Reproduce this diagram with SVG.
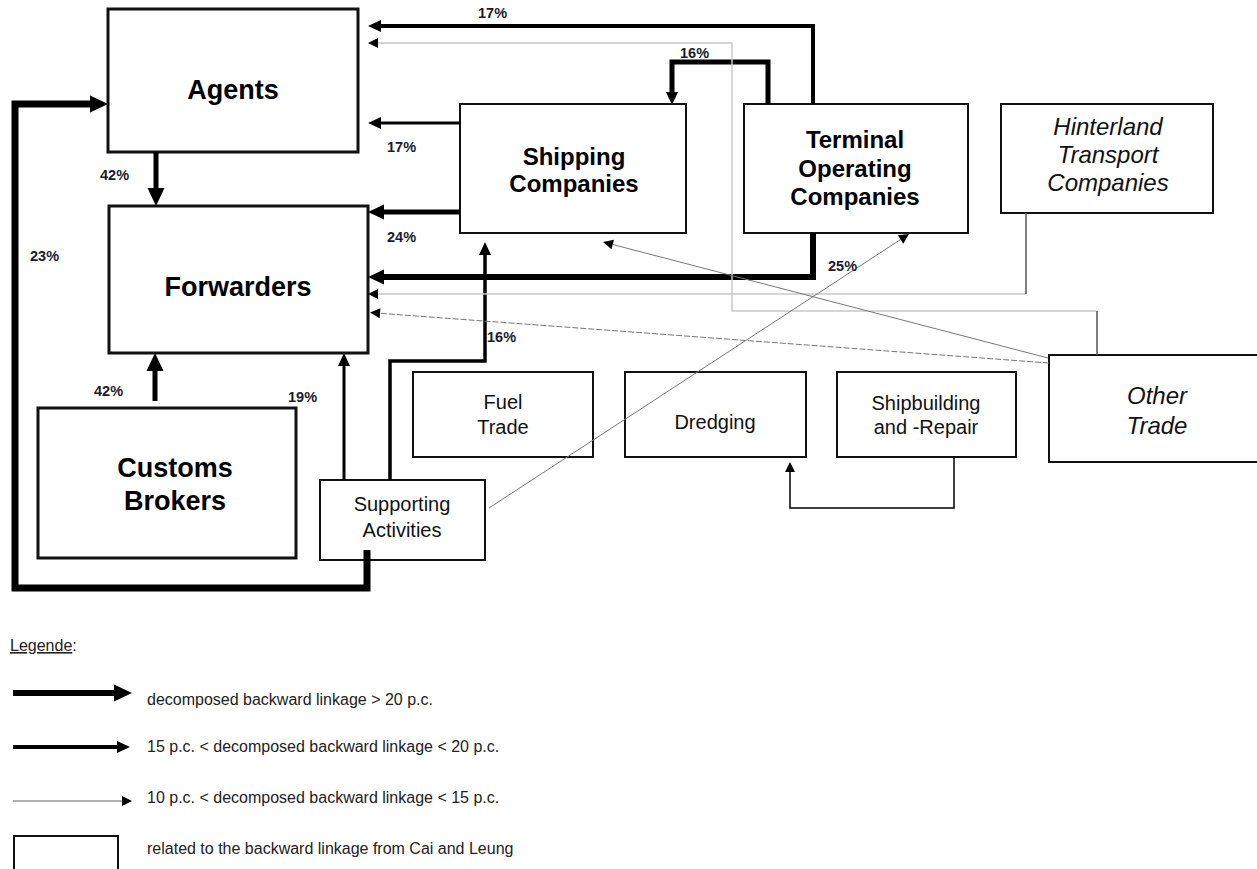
<svg xmlns="http://www.w3.org/2000/svg" width="1257" height="869" viewBox="0 0 1257 869">
  <style>
    .box { fill: #fff; stroke: #111; }
    .heavy { stroke-width: 3; }
    .light { stroke-width: 2; }
    .bigt { font-family: "Liberation Sans", Arial, sans-serif; font-weight: bold; fill: #000; text-anchor: middle; }
    .reg { font-family: "Liberation Sans", Arial, sans-serif; fill: #111; text-anchor: middle; }
    .ital { font-family: "Liberation Sans", Arial, sans-serif; font-style: italic; fill: #111; text-anchor: middle; font-size: 24px; }
    .pct { font-family: "Liberation Sans", Arial, sans-serif; font-weight: bold; font-size: 14.5px; fill: #1b1b2b; }
    .leg { font-family: "Liberation Sans", Arial, sans-serif; font-size: 16px; fill: #222; }
    .c { fill: none; stroke: #000; stroke-linejoin: miter; stroke-linecap: butt; }
    .g { fill: none; stroke: #c8c8c8; stroke-width: 1.5; }
    .gd { fill: none; stroke: #555; stroke-width: 1.5; }
    .gt { fill: none; stroke: #777; stroke-width: 1; }
  </style>
  <defs>
    <marker id="aXL" markerUnits="userSpaceOnUse" markerWidth="18" markerHeight="18" refX="0" refY="8.5" orient="auto" overflow="visible">
      <path d="M0,0 L18,8.5 L0,17 z" fill="#000"/>
    </marker>
    <marker id="aL" markerUnits="userSpaceOnUse" markerWidth="16" markerHeight="16" refX="0" refY="7.5" orient="auto" overflow="visible">
      <path d="M0,0 L16,7.5 L0,15 z" fill="#000"/>
    </marker>
    <marker id="aM" markerUnits="userSpaceOnUse" markerWidth="13" markerHeight="13" refX="0" refY="6" orient="auto" overflow="visible">
      <path d="M0,0 L13,6 L0,12 z" fill="#000"/>
    </marker>
    <marker id="aS" markerUnits="userSpaceOnUse" markerWidth="10" markerHeight="10" refX="0" refY="5" orient="auto" overflow="visible">
      <path d="M0,0 L10,5 L0,10 z" fill="#000"/>
    </marker>
  </defs>

  <rect width="1257" height="869" fill="#fff"/>

  <g id="agents">
    <rect class="box heavy" x="108" y="9" width="250" height="143"/>
    <text class="bigt" x="233" y="99" font-size="27">Agents</text>
  </g>
  <g id="forwarders">
    <rect class="box heavy" x="109" y="206" width="259" height="147"/>
    <text class="bigt" x="238" y="296" font-size="27">Forwarders</text>
  </g>
  <g id="customs-brokers">
    <rect class="box heavy" x="38" y="408" width="258" height="150"/>
    <text class="bigt" x="175" y="477" font-size="27">Customs</text>
    <text class="bigt" x="175" y="510" font-size="27">Brokers</text>
  </g>
  <g id="supporting-activities">
    <rect class="box light" x="320" y="480" width="165" height="80"/>
    <text class="reg" x="402" y="511" font-size="20">Supporting</text>
    <text class="reg" x="402" y="537" font-size="20">Activities</text>
  </g>
  <g id="shipping-companies">
    <rect class="box light" x="460" y="104" width="226" height="129"/>
    <text class="bigt" x="574" y="165" font-size="24">Shipping</text>
    <text class="bigt" x="574" y="192" font-size="24">Companies</text>
  </g>
  <g id="terminal-operating-companies">
    <rect class="box light" x="744" y="104" width="224" height="129"/>
    <text class="bigt" x="855" y="148" font-size="24">Terminal</text>
    <text class="bigt" x="855" y="176.5" font-size="24">Operating</text>
    <text class="bigt" x="855" y="205" font-size="24">Companies</text>
  </g>
  <g id="hinterland-transport-companies">
    <rect class="box light" x="1001" y="104" width="212" height="109"/>
    <text class="ital" x="1108" y="135">Hinterland</text>
    <text class="ital" x="1108" y="163">Transport</text>
    <text class="ital" x="1108" y="191">Companies</text>
  </g>
  <g id="other-trade">
    <rect class="box light" x="1049" y="355" width="216" height="107"/>
    <text class="ital" x="1157" y="404">Other</text>
    <text class="ital" x="1157" y="434">Trade</text>
  </g>
  <g id="fuel-trade">
    <rect class="box light" x="413" y="372" width="180" height="85"/>
    <text class="reg" x="503" y="409" font-size="20">Fuel</text>
    <text class="reg" x="503" y="434" font-size="20">Trade</text>
  </g>
  <g id="dredging">
    <rect class="box light" x="625" y="372" width="181" height="85"/>
    <text class="reg" x="715" y="429" font-size="20">Dredging</text>
  </g>
  <g id="shipbuilding-repair">
    <rect class="box light" x="837" y="372" width="179" height="85"/>
    <text class="reg" x="926" y="410" font-size="20">Shipbuilding</text>
    <text class="reg" x="926" y="434" font-size="20">and -Repair</text>
  </g>

  <!-- connectors, drawn over the boxes -->
  <g id="connectors">
    <!-- Supporting Activities -> Agents (23%) -->
    <path class="c" stroke-width="7" d="M367,550 V588 H15 V104 H90" marker-end="url(#aXL)"/>
    <!-- Agents -> Forwarders (42%) -->
    <path class="c" stroke-width="5" d="M156,152 V188" marker-end="url(#aXL)"/>
    <!-- Customs Brokers -> Forwarders (42%) -->
    <path class="c" stroke-width="5" d="M155,401 V371" marker-end="url(#aXL)"/>
    <!-- Supporting Activities -> Forwarders (19%) -->
    <path class="c" stroke-width="3" d="M344,480 V366" marker-end="url(#aM)"/>
    <!-- Supporting Activities -> Shipping Companies (16%) -->
    <path class="c" stroke-width="3.5" d="M390,480 V361 H485 V255" marker-end="url(#aM)"/>
    <!-- Shipping Companies -> Forwarders (24%) -->
    <path class="c" stroke-width="5" d="M460,212 H384" marker-end="url(#aL)"/>
    <!-- Shipping Companies -> Agents (17%) -->
    <path class="c" stroke-width="3" d="M460,123 H381" marker-end="url(#aM)"/>
    <!-- Terminal Operating Companies -> Forwarders (25%) -->
    <path class="c" stroke-width="6" d="M813,233 V277 H384" marker-end="url(#aL)"/>
    <!-- Terminal Operating Companies -> Agents (17%) -->
    <path class="c" stroke-width="4" d="M813,104 V26 H381" marker-end="url(#aM)"/>
    <!-- Terminal Operating Companies -> Shipping Companies (16%) -->
    <path class="c" stroke-width="5" d="M768,104 V62 H672 V92" marker-end="url(#aM)"/>
    <!-- Other Trade -> Agents -->
    <path class="g" d="M1097,311 H732 V43 H378" marker-end="url(#aS)"/>
    <path class="gd" d="M1097,355 V311"/>
    <!-- Hinterland Transport Companies -> Forwarders -->
    <path class="g" d="M1026,294 H378" marker-end="url(#aS)"/>
    <path class="gd" d="M1026,213 V294"/>
    <!-- Other Trade -> Forwarders -->
    <path class="gt" stroke-dasharray="6 2" d="M1049,363 L380,313.3" marker-end="url(#aS)"/>
    <!-- Other Trade -> Shipping Companies -->
    <path class="gt" d="M1048,358 L612.7,244.5" marker-end="url(#aS)"/>
    <!-- Supporting Activities -> Terminal Operating Companies -->
    <path class="gt" d="M489,508 L900.6,239.5" marker-end="url(#aS)"/>
    <!-- Shipbuilding and -Repair -> Dredging -->
    <path class="c" stroke-width="1.5" d="M954,457 V508 H790 V472" marker-end="url(#aS)"/>

    <!-- shares -->
    <text class="pct" x="478" y="18">17%</text>
    <text class="pct" x="680" y="58">16%</text>
    <text class="pct" x="387" y="152">17%</text>
    <text class="pct" x="387" y="242">24%</text>
    <text class="pct" x="100" y="180">42%</text>
    <text class="pct" x="30" y="261">23%</text>
    <text class="pct" x="828" y="271">25%</text>
    <text class="pct" x="487" y="342">16%</text>
    <text class="pct" x="94" y="396">42%</text>
    <text class="pct" x="288" y="402">19%</text>
  </g>

  <!-- key -->
  <g id="legend">
    <text class="leg" x="10" y="651"><tspan text-decoration="underline">Legende</tspan>:</text>
    <path class="c" stroke-width="6" d="M13,693 H114" marker-end="url(#aXL)"/>
    <text class="leg" x="147" y="705">decomposed backward linkage &gt; 20 p.c.</text>
    <path class="c" stroke-width="4" d="M13,747 H117" marker-end="url(#aM)"/>
    <text class="leg" x="147" y="752">15 p.c. &lt; decomposed backward linkage &lt; 20 p.c.</text>
    <path fill="none" stroke="#999" stroke-width="1.5" d="M13,801 H122" marker-end="url(#aS)"/>
    <text class="leg" x="147" y="803">10 p.c. &lt; decomposed backward linkage &lt; 15 p.c.</text>
    <rect class="box light" x="14" y="836" width="104" height="40"/>
    <text class="leg" x="147" y="854">related to the backward linkage from Cai and Leung</text>
  </g>
</svg>
